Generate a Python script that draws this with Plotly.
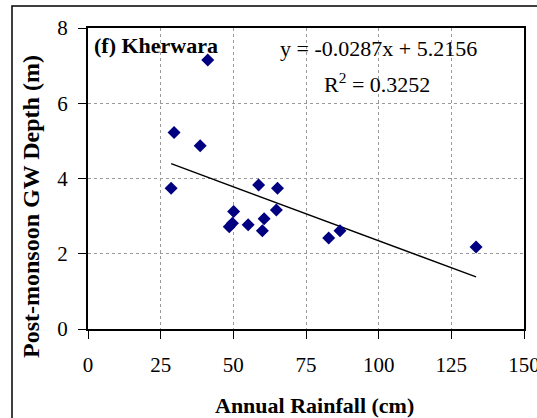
import plotly.graph_objects as go

rainfall = [41.2, 29.6, 38.6, 28.6, 58.7, 65.2, 50.1, 48.6, 49.7, 55.1, 60.6, 60.0, 64.8, 82.8, 86.7, 133.5]
gw_depth = [7.15, 5.22, 4.87, 3.74, 3.83, 3.74, 3.12, 2.72, 2.81, 2.77, 2.93, 2.61, 3.16, 2.42, 2.61, 2.18]
slope = -0.0287
intercept = 5.2156
r2 = 0.3252
x_ticks = [0, 25, 50, 75, 100, 125, 150]
y_ticks = [0, 2, 4, 6, 8]

xmin, xmax = min(rainfall), max(rainfall)
trend_x = [xmin, xmax]
trend_y = [slope * v + intercept for v in trend_x]

FONT = "Liberation Serif, Times New Roman, serif"

fig = go.Figure()
fig.add_trace(go.Scatter(x=trend_x, y=trend_y, mode="lines",
                         line=dict(color="black", width=1.5), showlegend=False))
fig.add_trace(go.Scatter(x=rainfall, y=gw_depth, mode="markers",
                         marker=dict(symbol="diamond", color="#000080", size=10,
                                     line=dict(width=0)), showlegend=False))

W, H = 537, 418
L, R, T, B = 88, 13, 28, 89
pw, ph = W - L - R, H - T - B


def px(xp):
    return (xp - L) / pw


def py(yp):
    return 1 - (yp - T) / ph


fig.update_layout(
    width=W, height=H,
    margin=dict(l=L, r=R, t=T, b=B, autoexpand=False),
    paper_bgcolor="white", plot_bgcolor="white",
    font=dict(family=FONT, size=21, color="black"),
    xaxis=dict(range=[0, 150], tickvals=x_ticks, ticks="outside", ticklen=8,
               tickcolor="black", showline=True, linecolor="black", linewidth=2,
               mirror=True, showgrid=True, gridcolor="#9a9a9a", griddash="dot",
               gridwidth=1, zeroline=False, ticklabelstandoff=8, automargin=False,
               ticklabeloverflow="allow", tickfont=dict(size=21)),
    yaxis=dict(range=[0, 8], tickvals=y_ticks, ticks="outside", ticklen=8,
               tickcolor="black", showline=True, linecolor="black", linewidth=2,
               mirror=True, showgrid=True, gridcolor="#9a9a9a", griddash="dot",
               gridwidth=1, zeroline=False, ticklabelstandoff=6, automargin=False,
               ticklabeloverflow="allow", tickfont=dict(size=21)),
    shapes=[dict(type="rect", xref="paper", yref="paper",
                 x0=px(12), x1=1.2, y0=-0.5, y1=py(6),
                 line=dict(color="black", width=1.5), layer="below")],
    annotations=[
        dict(text="<b>(f) Kherwara</b>", xref="paper", yref="paper",
             x=px(92), y=py(46), xanchor="left", yanchor="middle",
             showarrow=False, font=dict(size=22)),
        dict(text="y = -0.0287x + 5.2156", xref="paper", yref="paper",
             x=px(378), y=py(48), xanchor="center", yanchor="middle",
             showarrow=False, font=dict(size=22)),
        dict(text="R<sup>2</sup> = 0.3252", xref="paper", yref="paper",
             x=px(377), y=py(83), xanchor="center", yanchor="middle",
             showarrow=False, font=dict(size=22)),
        dict(text="<b>Annual Rainfall (cm)</b>", xref="paper", yref="paper",
             x=px(314), y=py(405), xanchor="center", yanchor="middle",
             showarrow=False, font=dict(size=22)),
        dict(text="<b>Post-monsoon GW Depth (m)</b>", xref="paper", yref="paper",
             x=px(31), y=py(207), xanchor="center", yanchor="middle", textangle=-90,
             showarrow=False, font=dict(size=24)),
    ],
)

fig.write_html("out.html")
